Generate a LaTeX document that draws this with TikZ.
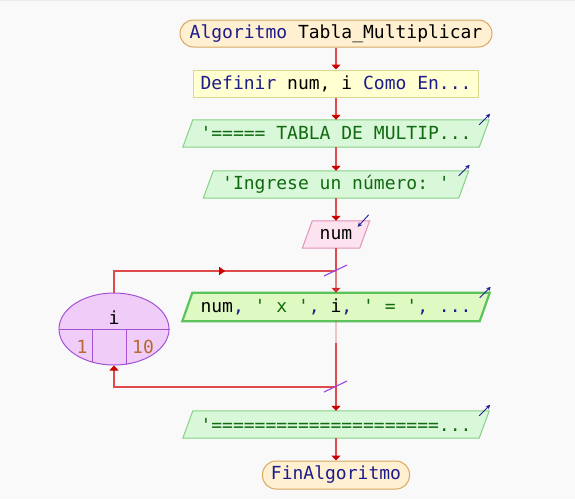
\documentclass[tikz,border=0pt]{standalone}
\usepackage{fontspec}
\setmonofont{DejaVu Sans Mono}
\usetikzlibrary{arrows.meta,calc,backgrounds,shapes.geometric,decorations.markings}
\definecolor{bg}{HTML}{F9F9F9}
\definecolor{bgtop}{HTML}{ECECEC}
\definecolor{kw}{HTML}{1C1C8C}
\definecolor{str}{HTML}{106A10}
\definecolor{numc}{HTML}{B8692E}
\definecolor{flow}{HTML}{DD4B4B}
\definecolor{tip}{HTML}{CC0000}
\definecolor{startfill}{HTML}{FFF0D2}
\definecolor{startdraw}{HTML}{D8A860}
\definecolor{deffill}{HTML}{FFFFD2}
\definecolor{defdraw}{HTML}{D8D890}
\definecolor{outfill}{HTML}{D9F7D9}
\definecolor{outdraw}{HTML}{86D286}
\definecolor{bodyfill}{HTML}{DFF9C2}
\definecolor{bodydraw}{HTML}{5CC35C}
\definecolor{infill}{HTML}{FDE2EF}
\definecolor{indraw}{HTML}{E392BA}
\definecolor{loopfill}{HTML}{F0CCF8}
\definecolor{loopdraw}{HTML}{A452D4}
\definecolor{slashc}{HTML}{9B45E6}
\definecolor{ioarrow}{HTML}{22228E}
\newcommand{\drawpara}[2]{\draw[#1] ([xshift=5pt]#2.north west) -- ([xshift=5pt]#2.north east) -- ([xshift=-5pt]#2.south east) -- ([xshift=-5pt]#2.south west) -- cycle;}
\newcommand{\outarrow}[1]{\draw[ioarr] ([shift={(-5,5)}]#1.north east) -- ([shift={(6,-6)}]#1.north east);}
\begin{document}
\begin{tikzpicture}[x=1pt,y=-1pt,
  font=\ttfamily\fontsize{18}{20}\selectfont,
  term/.style={draw=startdraw, fill=startfill, line width=1pt, rounded corners=13.5pt, minimum height=27pt, inner sep=0pt, text=kw},
  proc/.style={draw=defdraw, fill=deffill, line width=1pt, minimum height=27pt, inner sep=0pt},
  para/.style={rectangle, inner sep=0pt, minimum height=27pt},
  outshape/.style={draw=outdraw, fill=outfill, line width=1pt},
  bodyshape/.style={draw=bodydraw, fill=bodyfill, line width=2.2pt},
  inshape/.style={draw=indraw, fill=infill, line width=1pt},
  loopnode/.style={ellipse, draw=loopdraw, fill=loopfill, line width=1pt, minimum width=110pt, minimum height=72pt, inner sep=0pt},
  flowline/.style={draw=flow, line width=1.2pt},
  arr/.style={flowline, -{Triangle[length=5pt,width=9pt,color=tip]}},
  ioarr/.style={draw=ioarrow, line width=0.9pt, -{Stealth[length=4.5pt,width=4.5pt]}},
  slashmark/.style={draw=slashc, line width=1.1pt},
  midarrow/.style={postaction={decorate, decoration={markings, mark=at position #1 with {\arrow{Triangle[length=6pt,width=8pt,color=tip]}}}}}
]
\begin{scope}[on background layer]
  \fill[bg] (0,0) rectangle (575,499);
  \fill[bgtop] (0,0) rectangle (575,1);
\end{scope}
\useasboundingbox (0,0) rectangle (575,499);

% nodes
\node[term, minimum width=312pt] (start) at (336,33.5) {Algoritmo {\color{black}Tabla\_Multiplicar}};
\node[proc, minimum width=285pt, text=kw] (def) at (336,83.5) {Definir {\color{black}num, i} Como En...};
\node[para, minimum width=296pt, text=str] (out1) at (336,133.5) {'===== TABLA DE MULTIP...};
\node[para, minimum width=255pt, text=str] (out2) at (336,184.5) {'Ingrese un número: '};
\node[para, minimum width=57pt] (in1) at (336,234.5) {num};
\node[para, minimum width=297pt, minimum height=28pt] (body) at (336,307) {num{\color{kw},} {\color{str}' x '}{\color{kw},} i{\color{kw},} {\color{str}' = '}{\color{kw}, ...}};
\node[para, minimum width=296pt, text=str] (out4) at (336,424.5) {'=====================...};
\node[term, minimum width=147pt, minimum height=28pt] (fin) at (336,475) {FinAlgoritmo};

\node[loopnode] (loop) at (114,329) {};
\draw[loopdraw, line width=1pt] (loop.west) -- (loop.east);
\draw[loopdraw, line width=1pt] (92,329) -- (92,362);
\draw[loopdraw, line width=1pt] (126,329) -- (126,364.5);
\node (lvar) at (114,318) {i};
\node[text=numc] (lfrom) at (82,347) {1};
\node[text=numc] (lto) at (143,347) {10};

% parallelogram outlines
\begin{scope}[on background layer]
  \drawpara{outshape}{out1}
  \drawpara{outshape}{out2}
  \drawpara{inshape}{in1}
  \drawpara{bodyshape}{body}
  \drawpara{outshape}{out4}
\end{scope}
\outarrow{out1}
\outarrow{out2}
\outarrow{body}
\outarrow{out4}
\draw[ioarr] ([shift={(4,-6)}]in1.north east) -- ([shift={(-7,6)}]in1.north east);

% junctions
\coordinate (j1) at (336,271);
\coordinate (j2) at (336,387);
\coordinate (m1) at (336,343);

% connectors
\draw[arr] (start) -- (def);
\draw[arr] (def) -- (out1);
\draw[arr] (out1) -- (out2);
\draw[arr] (out2) -- (in1);
\draw[flowline] (in1) -- (j1);
\draw[arr, opacity=0.7] (j1) -- (body);
\draw[flowline, opacity=0.3] (body) -- (m1);
\draw[arr] (m1) -- (out4);
\draw[arr] (out4) -- (fin);
\draw[flowline, midarrow=0.545] (loop.north) |- (j1);
\draw[arr] (j2) -| (loop.south);
\draw[slashmark] ([shift={(-12,5)}]j1) -- ([shift={(11,-6)}]j1);
\draw[slashmark] ([shift={(-12,5)}]j2) -- ([shift={(11,-6)}]j2);
\end{tikzpicture}
\end{document}
